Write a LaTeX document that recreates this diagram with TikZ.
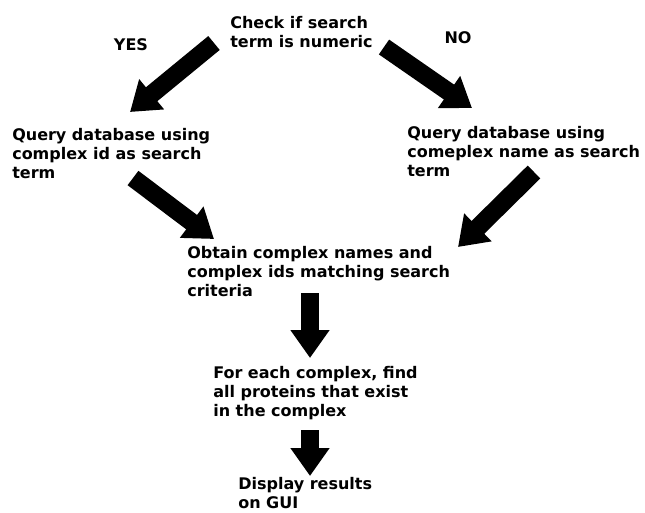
\documentclass[tikz,border=0pt]{standalone}
\usepackage{fontspec}
\setmainfont{DejaVu Sans}
\usetikzlibrary{arrows.meta, positioning}

\begin{document}
\begin{tikzpicture}[x=0.75pt, y=-0.75pt]
	\tikzset{box/.style={anchor=north west, inner sep=0pt, align=left, font=\bfseries\fontsize{12}{14.4}\selectfont},
		label text/.style={inner sep=0pt, font=\bfseries\fontsize{12}{14.4}\selectfont},
		block/.style={line width=13.5pt, -{Triangle[length=21pt, width=28pt]}} }
	\useasboundingbox (0,0) rectangle (645,512);

	\node[box] (check) at (230,16) {Check if search\\term is numeric};
	\node[label text] (yes) at (131,45) {YES};
	\node[label text] (no) at (458,38) {NO};
	\node[box] (qid) at (12,128) {Query database using\\complex id as search\\term};
	\node[box] (qname) at (407,126) {Query database using\\comeplex name as search\\term};
	\node[box] (obtain) at (187,246) {Obtain complex names and\\complex ids matching search\\criteria};
	\node[box] (foreach) at (213,366) {For each complex, find\\all proteins that exist\\in the complex};
	\node[box] (display) at (238,477) {Display results\\on GUI};

	% arrow ends
	\coordinate (yes tail) at (214,43);
	\coordinate (yes tip) at (130,112);
	\coordinate (no tail) at (384,47);
	\coordinate (no tip) at (472,108);
	\coordinate (qid tail) at (133,178);
	\coordinate (qid tip) at (214,239);
	\coordinate (qname tail) at (534,172);
	\coordinate (qname tip) at (458,247);
	\coordinate (obtain tail) at (310,293);
	\coordinate (obtain tip) at (310,358);
	\coordinate (foreach tail) at (310,430);
	\coordinate (foreach tip) at (310,476);

	\draw[block] (yes tail) -- (yes tip);
	\draw[block] (no tail) -- (no tip);
	\draw[block] (qid tail) -- (qid tip);
	\draw[block] (qname tail) -- (qname tip);
	\draw[block] (obtain tail) -- (obtain tip);
	\draw[block] (foreach tail) -- (foreach tip);
\end{tikzpicture}
\end{document}
